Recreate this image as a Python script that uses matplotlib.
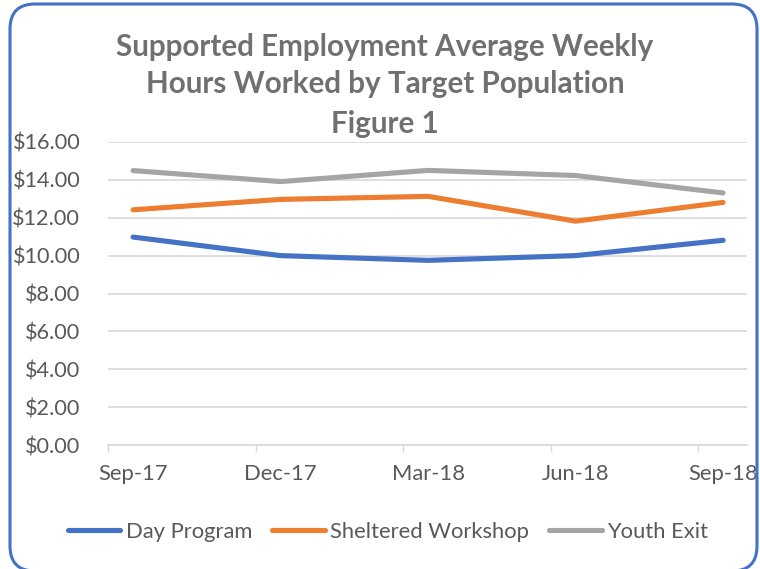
import matplotlib
matplotlib.use("Agg")
import matplotlib.pyplot as plt
from matplotlib.patches import FancyBboxPatch
from matplotlib.transforms import IdentityTransform
from matplotlib.lines import Line2D

categories = ["Sep-17", "Dec-17", "Mar-18", "Jun-18", "Sep-18"]
day_program = [10.98, 10.00, 9.75, 10.00, 10.81]
sheltered_workshop = [12.42, 12.97, 13.13, 11.82, 12.81]
youth_exit = [14.49, 13.91, 14.50, 14.23, 13.31]
y_ticks = [0, 2, 4, 6, 8, 10, 12, 14, 16]

FONT = "Lato"
W, H = 760, 569
fig = plt.figure(figsize=(W / 100, H / 100), dpi=100)
plt.rcParams["font.family"] = [FONT, "DejaVu Sans"]

ax = fig.add_axes([108 / W, (H - 445) / H, (746.7 - 108) / W, (445 - 142) / H])
x = list(range(len(categories)))
series = [("Day Program", day_program, "#4472C4"),
          ("Sheltered Workshop", sheltered_workshop, "#ED7D31"),
          ("Youth Exit", youth_exit, "#A5A5A5")]
for name, vals, col in series:
    ax.plot(x, vals, color=col, lw=3.7, solid_capstyle="round", solid_joinstyle="round", label=name, zorder=3)

ax.set_xlim(-0.17, 4.16)
ax.set_ylim(0, 16)
ax.set_yticks(y_ticks)
ax.set_yticklabels([f"${v:.2f}" for v in y_ticks])
ax.set_xticks(x)
ax.set_xticklabels(categories)
ax.set_xticks([i - 0.17 for i in x], minor=True)
ax.tick_params(axis="x", which="major", length=0, pad=14, labelsize=15.8, labelcolor="#595959")
ax.tick_params(axis="x", which="minor", length=5, width=1, color="#D9D9D9", direction="out")
ax.tick_params(axis="y", length=0, pad=20, labelsize=15.6, labelcolor="#595959")
ax.grid(axis="y", color="#D9D9D9", lw=1.2, zorder=0)
for s in ["top", "right", "left"]:
    ax.spines[s].set_visible(False)
ax.spines["bottom"].set_color("#D9D9D9")
ax.spines["bottom"].set_linewidth(1.2)

title_lines = ["Supported Employment Average Weekly", "Hours Worked by Target Population", "Figure 1"]
title_y = [47, 84, 124]
for t, yy in zip(title_lines, title_y):
    fig.text(385 / W, 1 - yy / H, t, ha="center", va="center", fontsize=21.3,
             fontweight="bold", color="#707070")

handles = [Line2D([0], [0], color=c, lw=3.7, solid_capstyle="round") for _, _, c in series]
fig.legend(handles, [s[0] for s in series], loc="center", bbox_to_anchor=(388 / W, 1 - 532 / H),
           ncol=3, frameon=False, fontsize=15.8, labelcolor="#595959", handlelength=2.4,
           handletextpad=0.25, columnspacing=0.9)

border = FancyBboxPatch((10, -2), 747, 567, boxstyle="round,pad=0,rounding_size=25",
                        transform=IdentityTransform(), fill=False, edgecolor="#4472C4", lw=2.2)
fig.patches.append(border)

fig.savefig("out.png", dpi=100)
